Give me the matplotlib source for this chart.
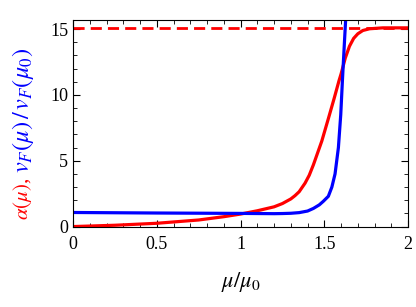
import numpy as np
import matplotlib
matplotlib.use("Agg")
import matplotlib.pyplot as plt
from matplotlib.ticker import MultipleLocator

plt.rcParams['font.family'] = 'Liberation Serif'
plt.rcParams['mathtext.fontset'] = 'stix'

# red curve: alpha(mu)
mu_alpha = [0, 0.25, 0.5, 0.75, 0.9, 1.0, 1.1, 1.2, 1.25, 1.3, 1.325, 1.35,
            1.385, 1.41, 1.435, 1.46, 1.485, 1.524, 1.56, 1.588, 1.6, 1.625,
            1.65, 1.675, 1.7, 1.73, 1.77, 1.85, 2.0]
alpha = [0, 0.1, 0.25, 0.5, 0.75, 0.95, 1.2, 1.5, 1.75, 2.1, 2.35, 2.65,
         3.3, 3.9, 4.7, 5.6, 6.5, 8.2, 9.8, 11.1, 11.6, 12.8,
         13.7, 14.3, 14.65, 14.9, 15.03, 15.1, 15.1]

# blue curve: v_F(mu)/v_F(mu0)
mu_vf = [0, 0.5, 1.0, 1.2, 1.25, 1.3, 1.35, 1.4, 1.435, 1.47, 1.494, 1.524,
         1.545, 1.564, 1.584, 1.598, 1.608, 1.62, 1.635]
vf = [1.07, 1.03, 1.0, 0.98, 0.99, 1.01, 1.06, 1.18, 1.38, 1.65, 1.92, 2.3,
      3.0, 4.0, 6.0, 8.5, 11.1, 14.0, 17.5]

alpha_max = 15.1

fig = plt.figure(figsize=(4.16, 3.07), dpi=100)
ax = fig.add_axes([0.1755, 0.262, 0.8055, 0.673])

ax.plot(mu_alpha, alpha, color='#ff0000', lw=2.3)
ax.plot(mu_vf, vf, color='#0000ff', lw=2.3)
ax.axhline(alpha_max, color='#ff0000', lw=2.0, ls=(0, (4, 2.2)))

ax.set_xlim(0, 2)
ax.set_ylim(0, 15.7)
ax.xaxis.set_minor_locator(MultipleLocator(0.1))
ax.yaxis.set_major_locator(MultipleLocator(5))
ax.yaxis.set_minor_locator(MultipleLocator(1))
ax.set_xticks([0, 0.5, 1, 1.5, 2])
ax.set_xticklabels(['0', '0.5', '1', '1.5', '2'])
ax.tick_params(which='both', direction='in', top=True, right=True, labelsize=13)
ax.tick_params(which='major', length=5)
ax.tick_params(which='minor', length=3)
ax.tick_params(axis='x', pad=7)

ax.set_xlabel(r'$\mu/\mu_0$', fontsize=16, labelpad=12)

fig.canvas.draw()
r = fig.canvas.get_renderer()
t1 = fig.text(0.055, 0.283, r'$\alpha(\mu)$,', rotation=90, ha='center', va='bottom',
              color='#ff0000', fontsize=15)
bb = t1.get_window_extent(r).transformed(fig.transFigure.inverted())
fig.text(0.055, bb.y1 + 0.014, r'$v_F(\mu)\,/\,v_F(\mu_0)$', rotation=90, ha='center', va='bottom',
         color='#0000ff', fontsize=17.5)

fig.savefig('out.png', dpi=100)
